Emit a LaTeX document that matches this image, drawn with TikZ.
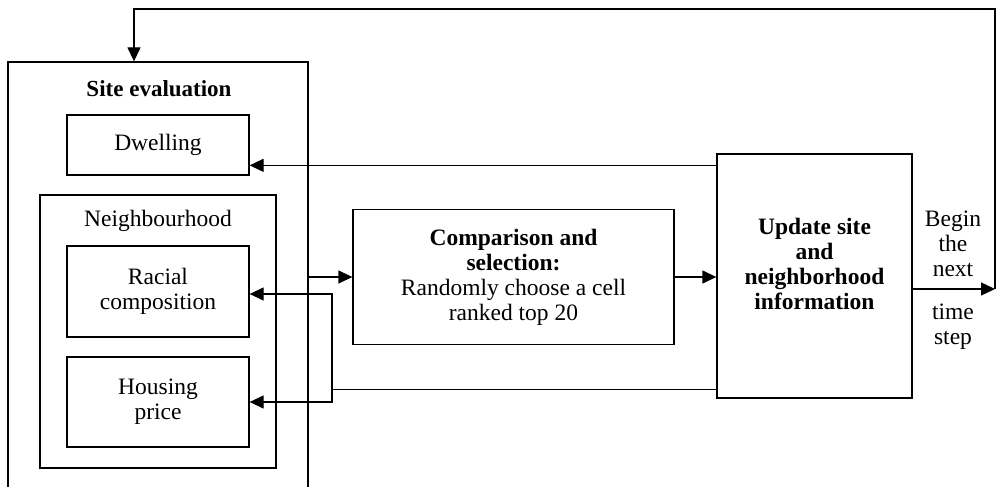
\documentclass[tikz,border=0pt]{standalone}
\usepackage{fontspec}
\setmainfont{Liberation Serif}
\usetikzlibrary{arrows.meta,calc}
\begin{document}
\begin{tikzpicture}[x=1pt,y=-1pt,
  box/.style={draw,line width=1.3pt,rectangle,inner sep=0pt,align=center,
    font=\fontsize{23.5}{25}\selectfont},
  txt/.style={align=center,inner sep=0pt,font=\fontsize{23.5}{25}\selectfont},
  arr/.style={line width=1.3pt,-{Triangle[length=14pt,width=13pt]}},
  ln/.style={line width=1.3pt}]
\useasboundingbox (0,0) rectangle (996,487);
\clip (0,0) rectangle (996,487);
\node[box,minimum width=300pt,minimum height=470pt] (site) at (158,297) {};
\node[txt,font=\fontsize{23}{25}\selectfont\bfseries] (sitelabel) at (159,89) {Site evaluation};
\node[box,minimum width=182pt,minimum height=60pt] (dwelling) at (158,145) {Dwelling};
\node[box,minimum width=236pt,minimum height=273pt] (neigh) at (158,331.5) {};
\node[txt] (neighlabel) at (158,221) {Neighbourhood};
\node[box,minimum width=182pt,minimum height=91pt] (racial) at (158,291.5) {Racial\\composition};
\node[box,minimum width=182pt,minimum height=90pt] (housing) at (158,402) {Housing\\price};
\node[box,minimum width=321pt,minimum height=135pt] (comp) at (513.5,277) {\textbf{Comparison and}\\\textbf{selection:}\\Randomly choose a cell\\ranked top 20};
\node[box,minimum width=195pt,minimum height=244pt] (update) at (814.5,276) {};
\node[txt,font=\fontsize{23.5}{25}\selectfont\bfseries] (updatelabel) at (814.5,264) {Update site\\and\\neighborhood\\information};
\node[txt] (begin) at (953,244) {Begin\\the\\next};
\node[txt] (timestep) at (953,327) {time\\step};
\coordinate (jt) at (332,294);
\coordinate (rt) at (995,289);
\coordinate (topr) at (995,9);
\draw[arr] (comp.west -| site.east) -- (comp.west);
\draw[arr] (comp.east) -- (comp.east -| update.west);
\draw[arr] ([yshift=-12pt]update.north west) -- ([yshift=-12pt]update.north west -| dwelling.east);
\draw[arr] ([yshift=9pt]update.south west) -| (jt) -- (jt -| racial.east);
\draw[arr] (jt) |- (housing.east);
\draw[arr] ([yshift=-13pt]update.east) -- (rt);
\draw[arr] (rt) -- (topr) -| ([xshift=-24pt]site.north);
\end{tikzpicture}
\end{document}
